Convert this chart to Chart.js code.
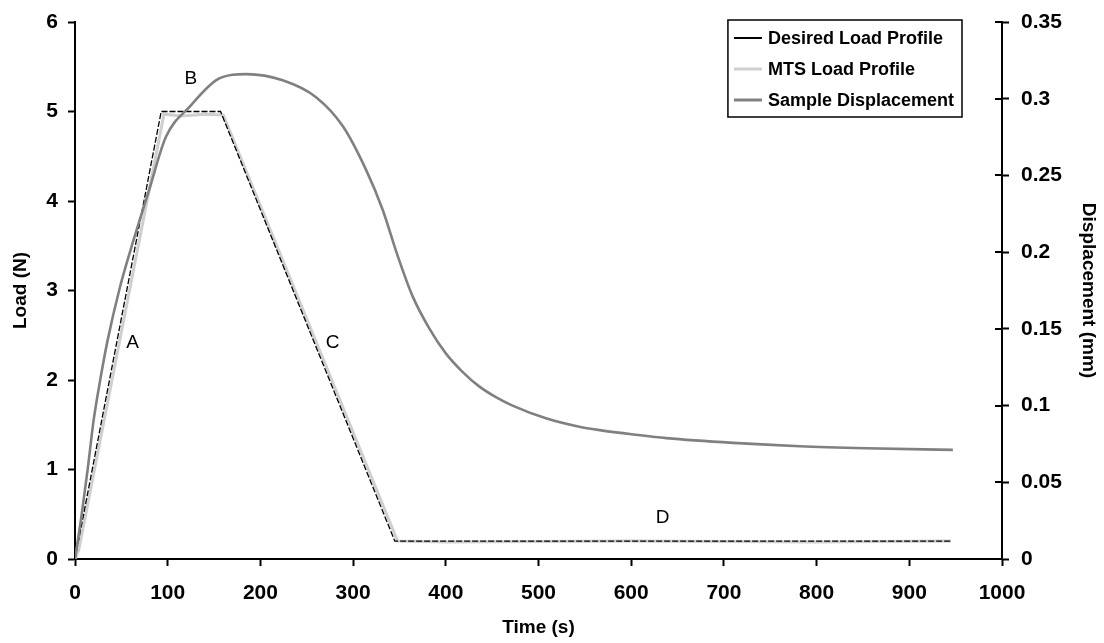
<!DOCTYPE html>
<html>
<head>
<meta charset="utf-8">
<script src="https://cdn.jsdelivr.net/npm/chart.js@4"></script>
<style>
  body { margin: 0; background: #fff; }
</style>
</head>
<body>
<canvas id="myChart" width="1104" height="643"></canvas>
<script>
// time (s) and load (N) of the desired profile
const desiredTime = [0, 93, 157, 345, 945];
const desiredLoad = [0, 5, 5, 0.2, 0.2];

// MTS measured load
const mtsTime = [0, 4, 96, 115, 140, 160, 348, 400, 600, 800, 945];
const mtsLoad = [0, 0.1, 4.97, 4.95, 4.97, 4.96, 0.2, 0.19, 0.2, 0.19, 0.2];

// sample displacement (mm), right axis
const dispTime = [0, 7, 14, 20, 27, 35, 48, 60, 80, 98, 124, 152, 170, 185, 224, 260, 289, 314, 332, 347, 364, 382, 400, 418, 436, 454, 472, 508, 544, 566, 605, 638, 710, 782, 854, 947];
const dispMm = [0, 0.028, 0.060, 0.090, 0.116, 0.142, 0.176, 0.2015, 0.2406, 0.275, 0.295, 0.312, 0.3156, 0.316, 0.312, 0.301, 0.282, 0.2536, 0.2275, 0.1995, 0.1715, 0.1505, 0.134, 0.122, 0.1125, 0.1055, 0.100, 0.0917, 0.0862, 0.0840, 0.0810, 0.0788, 0.0757, 0.0735, 0.0722, 0.0711];

// segment labels
const noteText = ['A', 'B', 'C', 'D'];
const noteTime = [62, 125, 278, 634];
const noteLoad = [2.42, 5.37, 2.42, 0.46];

const toPoints = (xs, ys) => xs.map((x, i) => ({ x: x, y: ys[i] }));

const FONT = '"Liberation Sans", Arial, sans-serif';

// legend box drawn inside the plot, top right
const boxLegend = {
  id: 'boxLegend',
  afterDraw(chart) {
    const ctx = chart.ctx;
    const items = chart.data.datasets;
    ctx.save();
    ctx.font = 'bold 18px ' + FONT;
    let w = 0;
    items.forEach(d => { w = Math.max(w, ctx.measureText(d.label).width); });
    const right = 962, top = 20, rowH = 31;
    const left = right - w - 48;
    ctx.fillStyle = '#fff';
    ctx.fillRect(left, top, right - left, rowH * 3 + 4);
    ctx.strokeStyle = '#000';
    ctx.lineWidth = 1.5;
    ctx.strokeRect(left, top, right - left, rowH * 3 + 4);
    items.forEach((d, i) => {
      const y = top + 18 + i * rowH;
      ctx.strokeStyle = d.borderColor;
      ctx.lineWidth = d.label.startsWith('Desired') ? 2 : 3;
      ctx.beginPath();
      ctx.moveTo(left + 6, y);
      ctx.lineTo(left + 34, y);
      ctx.stroke();
      ctx.fillStyle = '#000';
      ctx.textBaseline = 'middle';
      ctx.fillText(d.label, left + 40, y + 1);
    });
    ctx.restore();
  }
};

// A-D labels and the inner half of the right axis ticks
const extras = {
  id: 'extras',
  afterDatasetsDraw(chart) {
    const ctx = chart.ctx;
    const xs = chart.scales.x, ys = chart.scales.y, r = chart.scales.y1;
    ctx.save();
    ctx.font = '19px ' + FONT;
    ctx.fillStyle = '#000';
    ctx.textAlign = 'center';
    ctx.textBaseline = 'middle';
    noteText.forEach((t, i) => {
      ctx.fillText(t, xs.getPixelForValue(noteTime[i]), ys.getPixelForValue(noteLoad[i]));
    });
    ctx.strokeStyle = '#000';
    ctx.lineWidth = 2;
    r.ticks.forEach(tk => {
      const y = Math.round(r.getPixelForValue(tk.value));
      ctx.beginPath();
      ctx.moveTo(r.left - 7, y);
      ctx.lineTo(r.left, y);
      ctx.stroke();
    });
    ctx.restore();
  }
};

const tickFont = { family: FONT, size: 21, weight: 'bold' };
const titleFont = { family: FONT, size: 19, weight: 'bold' };

const ctx = document.getElementById('myChart').getContext('2d');
const myChart = new Chart(ctx, {
  type: 'line',
  data: {
    datasets: [
      {
        label: 'Desired Load Profile',
        data: toPoints(desiredTime, desiredLoad),
        borderColor: '#000000',
        borderWidth: 1.3,
        borderDash: [6, 2],
        pointRadius: 0,
        tension: 0,
        yAxisID: 'y',
        order: 1
      },
      {
        label: 'MTS Load Profile',
        data: toPoints(mtsTime, mtsLoad),
        borderColor: '#cfcfcf',
        borderWidth: 3,
        pointRadius: 0,
        tension: 0,
        yAxisID: 'y',
        order: 2
      },
      {
        label: 'Sample Displacement',
        data: toPoints(dispTime, dispMm),
        borderColor: '#808080',
        borderWidth: 2.6,
        pointRadius: 0,
        cubicInterpolationMode: 'monotone',
        yAxisID: 'y1',
        order: 0
      }
    ]
  },
  options: {
    responsive: false,
    animation: false,
    layout: { padding: { top: 22, left: 0, right: 0, bottom: 0 } },
    plugins: {
      legend: { display: false },
      tooltip: { enabled: false }
    },
    scales: {
      x: {
        type: 'linear',
        min: 0, max: 1000,
        ticks: { stepSize: 100, color: '#000', font: tickFont, padding: 15, maxRotation: 0,
          callback: v => String(v) },
        grid: { drawOnChartArea: false, tickLength: 7, tickColor: '#000', tickWidth: 2 },
        border: { color: '#000', width: 2 },
        title: { display: true, text: 'Time (s)', color: '#000', font: titleFont, padding: { top: 4, bottom: 4 } },
        afterFit(s) { s.height = 84; s.paddingLeft = 0; s.paddingRight = 0; }
      },
      y: {
        position: 'left',
        min: 0, max: 6,
        ticks: { stepSize: 1, color: '#000', font: tickFont, padding: 10 },
        grid: { drawOnChartArea: false, tickLength: 7, tickColor: '#000', tickWidth: 2 },
        border: { color: '#000', width: 2 },
        title: { display: true, text: 'Load (N)', color: '#000', font: titleFont, padding: { top: 9, bottom: 4 } },
        afterFit(s) { s.width = 75; s.paddingTop = 0; s.paddingBottom = 0; }
      },
      y1: {
        position: 'right',
        min: 0, max: 0.35,
        ticks: { stepSize: 0.05, color: '#000', font: tickFont, padding: 12,
          callback: v => String(+v.toFixed(2)) },
        grid: { drawOnChartArea: false, tickLength: 7, tickColor: '#000', tickWidth: 2 },
        border: { color: '#000', width: 2 },
        title: { display: true, text: 'Displacement (mm)', color: '#000', font: titleFont, padding: { top: 4, bottom: 4 } },
        afterFit(s) { s.width = 102; s.paddingTop = 0; s.paddingBottom = 0; }
      }
    }
  },
  plugins: [extras, boxLegend]
});
</script>
</body>
</html>
